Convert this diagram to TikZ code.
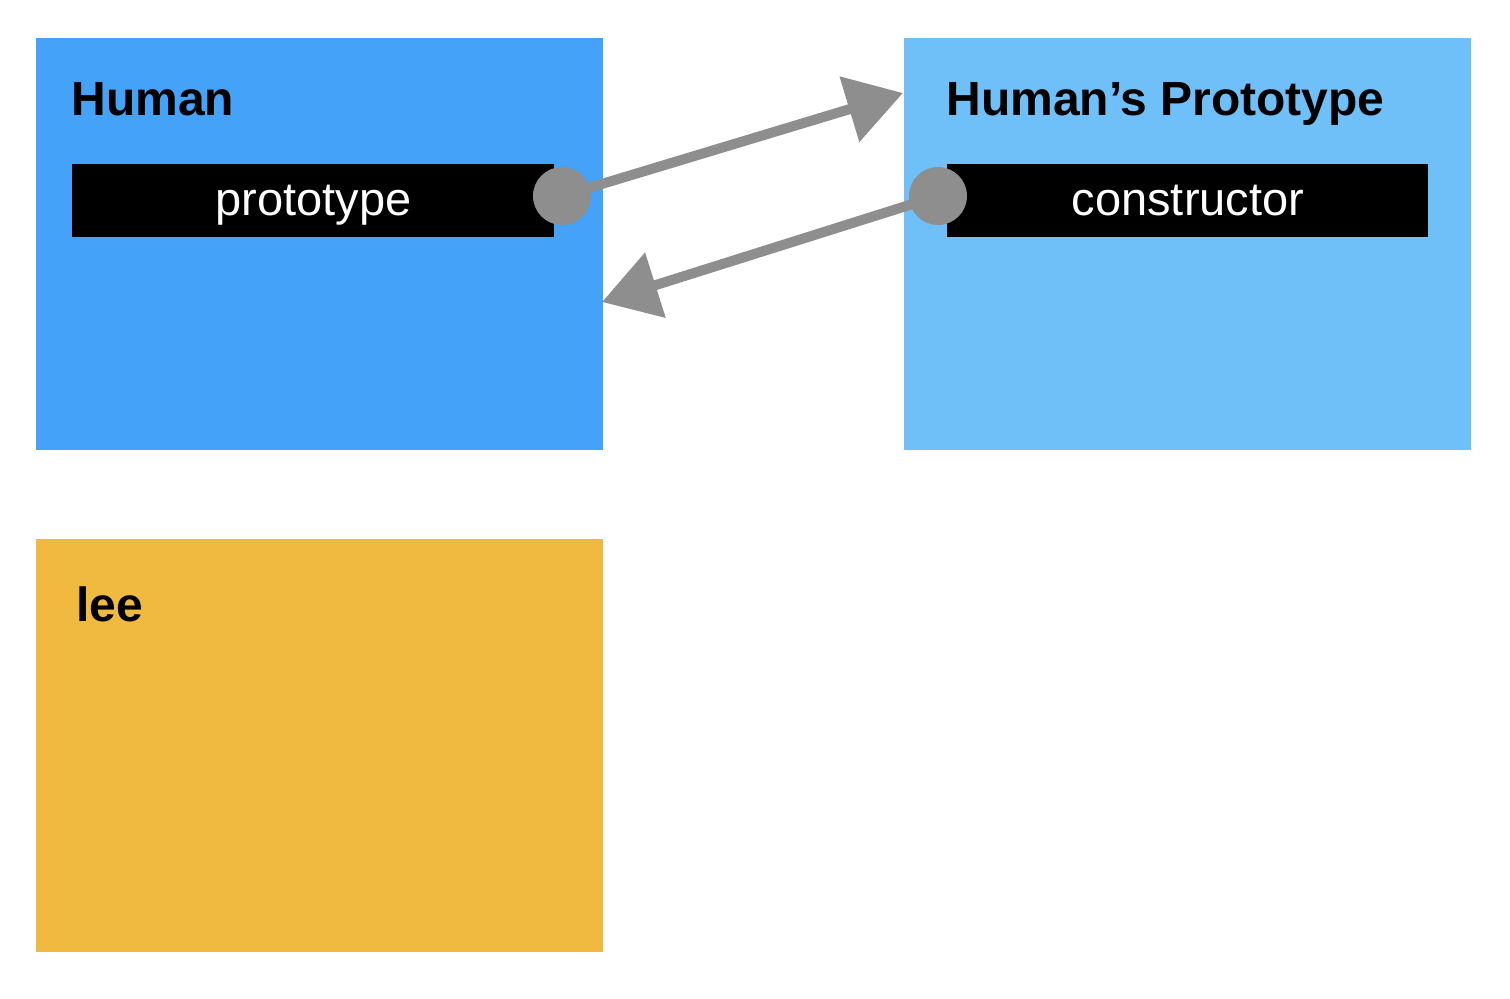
\documentclass[tikz,border=0pt]{standalone}
\usepackage{fontspec}
\setmainfont{Liberation Sans}
\usetikzlibrary{arrows.meta}
\definecolor{humanblue}{HTML}{44A2F8}
\definecolor{protoblue}{HTML}{6FBFF8}
\definecolor{leeyellow}{HTML}{F0B940}
\definecolor{pencil}{HTML}{8E8E8E}
\begin{document}
\begin{tikzpicture}[x=0.5pt,y=-0.5pt,
  box/.style={draw=none,minimum width=283.5pt,minimum height=206pt,inner sep=0pt,anchor=north west},
  title/.style={font=\bfseries\fontsize{24}{28}\selectfont,anchor=base west,inner sep=0pt},
  bar/.style={fill=black,text=white,minimum width=241pt,minimum height=36.5pt,inner sep=0pt,anchor=north west,text height=17pt,text depth=2.5pt,font=\fontsize{23.5}{28}\selectfont},
  dot/.style={circle,fill=pencil,minimum size=29pt,inner sep=0pt},
  link/.style={draw=pencil,line width=5pt,-{Triangle[length=28pt,width=33pt]}}]
\useasboundingbox (0,0) rectangle (1510,998);
\fill[white] (0,0) rectangle (1510,998);
\node[box,fill=humanblue] (human) at (36,38) {};
\node[box,fill=protoblue] (proto) at (904,38) {};
\node[box,fill=leeyellow,minimum height=206.5pt] (lee) at (36,539) {};
\node[title] (humant) at (71,115) {Human};
\node[title] (protot) at (946,115) {Human’s Prototype};
\node[title] (leet) at (76,621) {lee};
\node[bar] (pbar) at (72,164) {prototype};
\node[bar,minimum width=240.5pt] (cbar) at (947,164) {constructor};
\node[dot] (d1) at (562,196) {};
\node[dot] (d2) at (938,196) {};
\coordinate (t1) at (903,93);
\coordinate (t2) at (602,302);
\draw[link] (d1.center) -- (t1);
\draw[link] (d2.center) -- (t2);
\end{tikzpicture}
\end{document}
